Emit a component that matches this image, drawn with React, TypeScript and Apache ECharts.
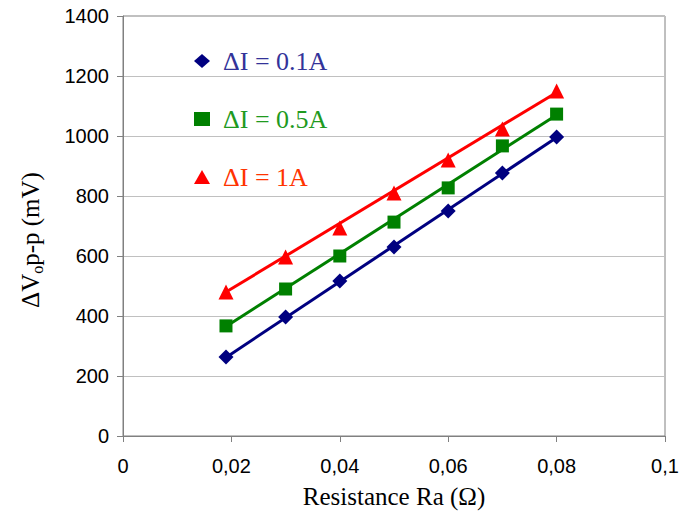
import React, { useEffect, useRef } from "react";
import * as echarts from "echarts";

const xValues = [0.019, 0.03, 0.04, 0.05, 0.06, 0.07, 0.08];
const seriesNames = ["ΔI = 0.1A", "ΔI = 0.5A", "ΔI = 1A"];
const values01 = [263, 397, 517, 630, 750, 877, 997];
const values05 = [367, 490, 600, 713, 827, 967, 1073];
const values1 = [480, 597, 693, 810, 920, 1023, 1150];
const trendX = [0.019, 0.08];
const trend01 = [262, 995];
const trend05 = [365, 1070];
const trend1 = [480, 1145];
const yTicks = { min: 0, max: 1400, interval: 200 };
const xTicks = { min: 0, max: 0.1, interval: 0.02 };

const colors = ["#000080", "#008000", "#ff0000"];
const textColors = ["#333399", "#1f9a1f", "#ff3300"];
const symbols = ["diamond", "rect", "triangle"];

export default function App() {
  const ref = useRef<HTMLDivElement>(null);
  useEffect(() => {
    document.body.style.margin = "0";
    const chart = echarts.init(ref.current!, null, { renderer: "svg" });
    const pts = [values01, values05, values1];
    const trends = [trend01, trend05, trend1];
    const scatter = pts.map((vals, i) => ({
      name: seriesNames[i],
      type: "scatter",
      symbol: symbols[i],
      symbolSize: i === 0 ? 15 : i === 1 ? 13 : 15,
      itemStyle: { color: colors[i], opacity: 1 },
      data: xValues.map((x, j) => [x, vals[j]]),
      z: 3,
    }));
    const lines = trends.map((vals, i) => ({
      name: seriesNames[i] + " trend",
      type: "line",
      showSymbol: false,
      symbol: "none",
      lineStyle: { color: colors[i], width: 3 },
      data: trendX.map((x, j) => [x, vals[j]]),
      z: 2,
    }));
    chart.setOption({
      animation: false,
      grid: {
        left: 123, right: 25, top: 16, bottom: 84,
        outerBoundsMode: "none",
        containLabel: false,
        show: true, borderColor: "#808080", borderWidth: 1,
      },
      legend: {
        orient: "vertical",
        left: 189,
        top: 43,
        itemGap: 32,
        itemWidth: 16,
        itemHeight: 14,
        textStyle: { fontFamily: "Liberation Serif", fontSize: 26 },
        data: seriesNames.map((n, i) => ({
          name: n,
          icon: symbols[i],
          itemStyle: { color: colors[i], opacity: 1 },
          textStyle: { color: textColors[i], fontFamily: "Liberation Serif", fontSize: 26, padding: [0, 0, 0, 8] },
        })),
      },
      xAxis: {
        type: "value",
        min: xTicks.min,
        max: xTicks.max,
        interval: xTicks.interval,
        name: "Resistance Ra (Ω)",
        nameLocation: "middle",
        nameGap: 48,
        nameTextStyle: { fontFamily: "Liberation Serif", fontSize: 25, color: "#000" },
        axisLine: { lineStyle: { color: "#808080" } },
        axisTick: { show: true, length: 6, lineStyle: { color: "#808080" } },
        splitLine: { show: false },
        axisLabel: {
          margin: 20,
          fontFamily: "Liberation Sans",
          fontSize: 20,
          color: "#000",
          formatter: (v: number) => String(+v.toFixed(2)).replace(".", ","),
        },
      },
      yAxis: {
        type: "value",
        min: yTicks.min,
        max: yTicks.max,
        interval: yTicks.interval,
        name: "{a|ΔV}{s|o}{a|p-p (mV)}",
        nameLocation: "middle",
        nameGap: 78,
        nameRotate: 90,
        nameTextStyle: {
          padding: [0, 28, 0, 0],
          rich: {
            a: { fontFamily: "Liberation Serif", fontSize: 25, color: "#000", lineHeight: 30 },
            s: { fontFamily: "Liberation Serif", fontSize: 16, color: "#000", lineHeight: 30, verticalAlign: "bottom" },
          },
        },
        axisLine: { show: true, lineStyle: { color: "#808080" } },
        axisTick: { show: true, length: 6, lineStyle: { color: "#808080" } },
        splitLine: { show: true, lineStyle: { color: "#c0c0c0", width: 1 } },
        axisLabel: {
          margin: 14,
          fontFamily: "Liberation Sans",
          fontSize: 20,
          color: "#000",
          formatter: (v: number) => String(v),
        },
      },
      series: [...lines, ...scatter],
    });
    return () => chart.dispose();
  }, []);
  return <div ref={ref} style={{ width: 690, height: 520 }} />;
}
